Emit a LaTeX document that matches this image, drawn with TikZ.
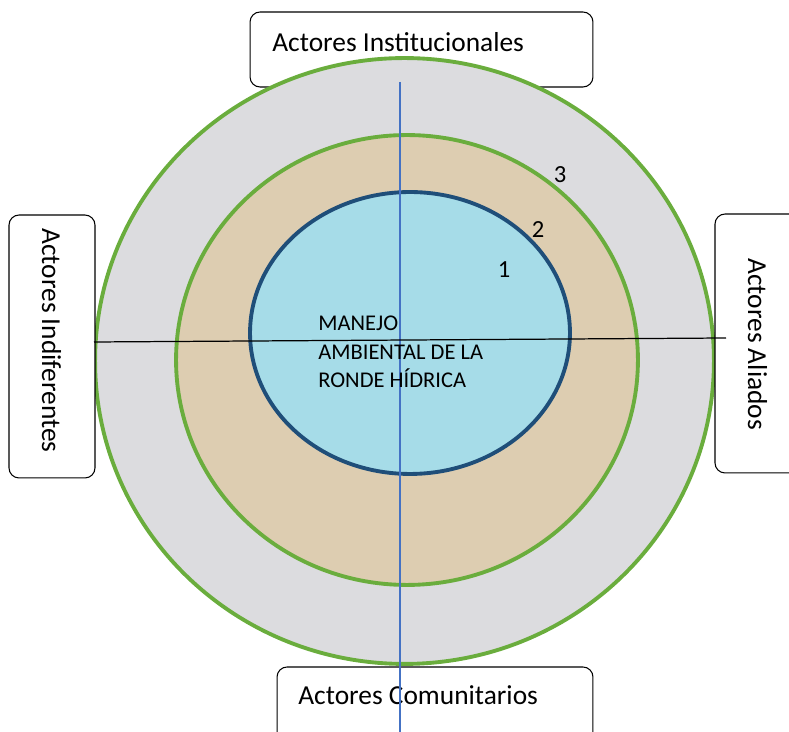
\documentclass[tikz,border=0pt]{standalone}
\usepackage{fontspec}
\setmainfont{Carlito}
\usetikzlibrary{positioning,shapes.geometric}

\definecolor{ringgreen}{HTML}{6AAD3D}
\definecolor{coreblue}{HTML}{1F4E79}
\definecolor{axisblue}{HTML}{4472C4}
\definecolor{marble}{HTML}{DCDCDF}
\definecolor{burlap}{HTML}{DDCDB1}
\definecolor{water}{HTML}{A6DCE8}

\begin{document}
\begin{tikzpicture}[
  x=0.02cm, y=-0.02cm,
  every node/.style={font=\fontsize{15.6}{18}\selectfont},
  actor/.style={rectangle,draw,rounded corners=0.2cm,fill=white,line width=0.6pt,inner sep=0pt},
  ring/.style={ellipse,draw=ringgreen,line width=2.2pt,inner sep=0pt},
  lbl/.style={inner sep=0pt},
  num/.style={inner sep=0pt,font=\fontsize{14}{17}\selectfont}
]
\useasboundingbox (0,0) rectangle (789,732);

% Actor boxes
\node[actor, minimum width=6.86cm, minimum height=1.5cm] (inst) at (421.5,49.5) {};

% Rings
\node[ring, fill=marble, minimum width=12.38cm, minimum height=12.12cm] (outer) at (404.5,361) {};
\node[ring, fill=burlap, minimum width=9.24cm, minimum height=9cm] (middle) at (407,360) {};
\node[ellipse, draw=coreblue, line width=2.2pt, fill=water, inner sep=0pt,
      minimum width=6.4cm, minimum height=5.64cm] (core) at (410,333) {};

\node[actor, minimum width=1.72cm, minimum height=5.26cm] (indif) at (52,346.5) {};
\node[actor, minimum width=1.7cm, minimum height=5.18cm] (aliad) at (757.5,343.5) {};
\node[actor, minimum width=6.32cm, minimum height=1.66cm] (comun) at (435,708.5) {};

% Box labels
\node[lbl, anchor=base west] (instT) at (272,52) {Actores Institucionales};
\node[lbl, anchor=base west, rotate=-90] (indifT) at (42,228) {Actores Indiferentes};
\node[lbl, anchor=base west, rotate=-90] (aliadT) at (748,258) {Actores Aliados};
\node[lbl, anchor=base west] (comunT) at (298,705) {Actores Comunitarios};

% Axes
\coordinate (axTop) at (400,82);
\coordinate (axBot) at (400,740);
\coordinate (axLeft) at (94,342);
\coordinate (axRight) at (726,338);
\draw[axisblue, line width=0.8pt] (axTop) -- (axBot);
\draw[black, line width=0.7pt] (axLeft) -- (axRight);

% Centre text and ring numbers
\node[lbl, anchor=base west, align=left, font=\fontsize{12.8}{16.5}\selectfont] (manejo) at (318,388)
  {MANEJO\\AMBIENTAL DE LA\\RONDE HÍDRICA};
\node[num] (n3) at (560,175) {3};
\node[num] (n2) at (538,230) {2};
\node[num] (n1) at (504,270) {1};
\end{tikzpicture}
\end{document}
